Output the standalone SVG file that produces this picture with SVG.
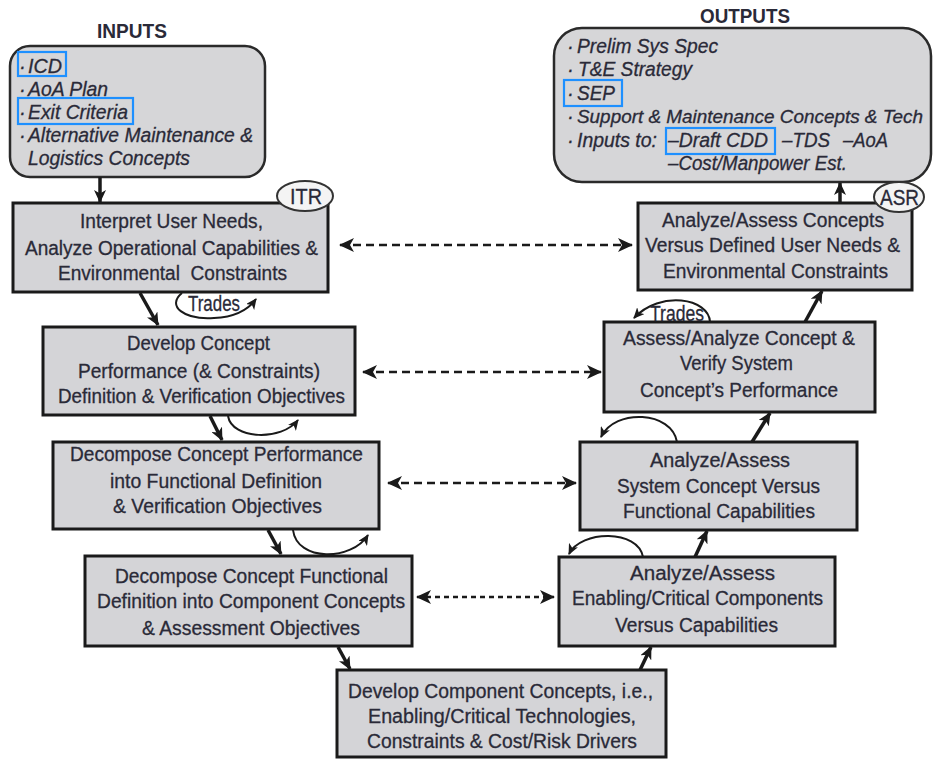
<svg xmlns="http://www.w3.org/2000/svg" width="933" height="759" viewBox="0 0 933 759">
<defs>
<style>
.bg{fill:#ffffff}
.box{fill:#d4d4d7;stroke:#1a1a1a;stroke-width:3}
.rbox{fill:#d6d6d8;stroke:#2a2a2a;stroke-width:2.5}
.t{font-family:"Liberation Sans",Arial,sans-serif;font-size:20px;fill:#2a2a38;stroke:#2a2a38;stroke-width:0.3;white-space:pre}
.it{font-family:"Liberation Sans",Arial,sans-serif;font-size:20px;font-style:italic;fill:#2a2a38;stroke:#2a2a38;stroke-width:0.3;white-space:pre}
.ttl{font-family:"Liberation Sans",Arial,sans-serif;font-size:20px;font-weight:bold;fill:#2a2a38}
.hl{fill:none;stroke:#1e90ff;stroke-width:2.2}
.ell{fill:#f4f4f4;stroke:#333;stroke-width:2}
.solid{fill:none;stroke:#1a1a1a;stroke-width:3.5}
.loop{fill:none;stroke:#1a1a1a;stroke-width:2}
.dash{fill:none;stroke:#1a1a1a;stroke-width:2.5;stroke-dasharray:8 5}
.dash2{fill:none;stroke:#1a1a1a;stroke-width:2.5;stroke-dasharray:5 4}
.big{font-size:22px}
</style>
<marker id="ah" markerUnits="userSpaceOnUse" markerWidth="14" markerHeight="12" refX="12" refY="6" orient="auto">
<path d="M0,0 L13,6 L0,12 L3.5,6 z" fill="#1a1a1a"/>
</marker>
<marker id="ahs" markerUnits="userSpaceOnUse" markerWidth="12" markerHeight="10" refX="10" refY="5" orient="auto">
<path d="M0,0 L11,5 L0,10 L3,5 z" fill="#1a1a1a"/>
</marker>
<marker id="ahd" markerUnits="userSpaceOnUse" markerWidth="16" markerHeight="14" refX="14" refY="7" orient="auto-start-reverse">
<path d="M0,0 L15,7 L0,14 L4,7 z" fill="#1a1a1a"/>
</marker>
</defs>
<rect class="bg" x="0" y="0" width="933" height="759"/>

<g id="inputs">
<text class="ttl" x="97" y="38" textLength="70" lengthAdjust="spacingAndGlyphs">INPUTS</text>
<rect class="rbox" x="10" y="46" width="255" height="131" rx="20" ry="20"/>
<text class="it" x="19" y="73">·</text><text class="it" x="28" y="73" textLength="34" lengthAdjust="spacingAndGlyphs">ICD</text>
<text class="it" x="19" y="96">·</text><text class="it" x="28" y="96" textLength="80" lengthAdjust="spacingAndGlyphs">AoA Plan</text>
<text class="it" x="19" y="119">·</text><text class="it" x="28" y="119" textLength="100" lengthAdjust="spacingAndGlyphs">Exit Criteria</text>
<text class="it" x="19" y="142">·</text><text class="it" x="28" y="142" textLength="225" lengthAdjust="spacingAndGlyphs">Alternative Maintenance &amp;</text>
<text class="it" x="28" y="165" textLength="162" lengthAdjust="spacingAndGlyphs">Logistics Concepts</text>
<rect class="hl" x="18" y="52" width="48" height="24"/>
<rect class="hl" x="18" y="98" width="115" height="26"/>
</g>

<g id="outputs">
<text class="ttl" x="700" y="23" textLength="90" lengthAdjust="spacingAndGlyphs">OUTPUTS</text>
<rect class="rbox" x="554" y="28" width="377" height="154" rx="28" ry="28"/>
<text class="it" x="567" y="53">·</text><text class="it" x="577" y="53" textLength="141" lengthAdjust="spacingAndGlyphs">Prelim Sys Spec</text>
<text class="it" x="567" y="76">·</text><text class="it" x="578" y="76" textLength="114" lengthAdjust="spacingAndGlyphs">T&amp;E Strategy</text>
<text class="it" x="567" y="100">·</text><text class="it" x="577" y="100" textLength="38" lengthAdjust="spacingAndGlyphs">SEP</text>
<text class="it" x="567" y="123">·</text><text class="it" x="577" y="123" textLength="346" lengthAdjust="spacingAndGlyphs" style="font-size:18px">Support &amp; Maintenance Concepts &amp; Tech</text>
<text class="it" x="567" y="147">·</text><text class="it" x="577" y="147" textLength="80" lengthAdjust="spacingAndGlyphs">Inputs to:</text>
<text class="it" x="668" y="147" textLength="100" lengthAdjust="spacingAndGlyphs">–Draft CDD</text>
<text class="it" x="782" y="147" textLength="48" lengthAdjust="spacingAndGlyphs">–TDS</text>
<text class="it" x="843" y="147" textLength="45" lengthAdjust="spacingAndGlyphs">–AoA</text>
<text class="it" x="668" y="170" textLength="179" lengthAdjust="spacingAndGlyphs">–Cost/Manpower Est.</text>
<rect class="hl" x="564" y="80" width="58" height="26"/>
<rect class="hl" x="666" y="128" width="109" height="26"/>
</g>

<g id="connectors">
<line class="solid" x1="100" y1="177" x2="100" y2="202" marker-end="url(#ah)"/>
<line class="solid" x1="140" y1="293" x2="158" y2="325" marker-end="url(#ah)"/>
<line class="solid" x1="210" y1="416" x2="222" y2="440" marker-end="url(#ah)"/>
<line class="solid" x1="268" y1="530" x2="281" y2="554" marker-end="url(#ah)"/>
<line class="solid" x1="338" y1="647" x2="350" y2="669" marker-end="url(#ah)"/>
<line class="solid" x1="640" y1="670" x2="651" y2="647" marker-end="url(#ah)"/>
<line class="solid" x1="695" y1="557" x2="707" y2="531" marker-end="url(#ah)"/>
<line class="solid" x1="752" y1="442" x2="770" y2="413" marker-end="url(#ah)"/>
<line class="solid" x1="805" y1="322" x2="822" y2="291" marker-end="url(#ah)"/>
<line class="solid" x1="840" y1="203" x2="840" y2="183" marker-end="url(#ah)"/>
<path class="loop" d="M182 293 C166 306 184 320 214 318 C234 317 248 310 256 299" marker-end="url(#ahs)"/>
<text class="t big" x="188" y="311" textLength="52" lengthAdjust="spacingAndGlyphs">Trades</text>
<path class="loop" d="M228 416 C232 440 282 441 298 420" marker-end="url(#ahs)"/>
<path class="loop" d="M293 530 C297 562 352 561 368 535" marker-end="url(#ahs)"/>
<path class="loop" d="M710 322 C709 298 660 290 634 318" marker-end="url(#ahs)"/>
<path class="loop" d="M677 442 C672 411 615 408 601 437" marker-end="url(#ahs)"/>
<path class="loop" d="M643 557 C638 529 581 530 569 554" marker-end="url(#ahs)"/>
<line class="dash" x1="340" y1="245" x2="632" y2="245" marker-start="url(#ahd)" marker-end="url(#ahd)"/>
<line class="dash" x1="363" y1="372" x2="601" y2="372" marker-start="url(#ahd)" marker-end="url(#ahd)"/>
<line class="dash" x1="388" y1="483" x2="576" y2="483" marker-start="url(#ahd)" marker-end="url(#ahd)"/>
<line class="dash2" x1="417" y1="597" x2="554" y2="597" marker-start="url(#ahd)" marker-end="url(#ahd)"/>
</g>

<g id="n1">
<rect class="box" x="13" y="203" width="315" height="89"/>
<text class="t" x="80" y="228" textLength="183" lengthAdjust="spacingAndGlyphs">Interpret User Needs,</text>
<text class="t" x="25" y="255" textLength="293" lengthAdjust="spacingAndGlyphs">Analyze Operational Capabilities &amp;</text>
<text class="t" x="58" y="280" textLength="229" lengthAdjust="spacingAndGlyphs">Environmental  Constraints</text>
</g>
<g id="itr">
<ellipse class="ell" cx="305" cy="196" rx="28" ry="15"/>
<text class="t big" x="290" y="204" textLength="32" lengthAdjust="spacingAndGlyphs">ITR</text>
</g>

<g id="n2">
<rect class="box" x="43" y="327" width="312" height="88"/>
<text class="t" x="127" y="350" textLength="143" lengthAdjust="spacingAndGlyphs">Develop Concept</text>
<text class="t" x="78" y="378" textLength="242" lengthAdjust="spacingAndGlyphs">Performance (&amp; Constraints)</text>
<text class="t" x="58" y="403" textLength="287" lengthAdjust="spacingAndGlyphs">Definition &amp; Verification Objectives</text>
</g>

<g id="n3">
<rect class="box" x="53" y="442" width="326" height="87"/>
<text class="t" x="70" y="461" textLength="293" lengthAdjust="spacingAndGlyphs">Decompose Concept Performance</text>
<text class="t" x="110" y="488" textLength="212" lengthAdjust="spacingAndGlyphs">into Functional Definition</text>
<text class="t" x="113" y="513" textLength="209" lengthAdjust="spacingAndGlyphs">&amp; Verification Objectives</text>
</g>

<g id="n4">
<rect class="box" x="85" y="556" width="327" height="90"/>
<text class="t" x="115" y="583" textLength="273" lengthAdjust="spacingAndGlyphs">Decompose Concept Functional</text>
<text class="t" x="97" y="608" textLength="308" lengthAdjust="spacingAndGlyphs">Definition into Component Concepts</text>
<text class="t" x="142" y="635" textLength="218" lengthAdjust="spacingAndGlyphs">&amp; Assessment Objectives</text>
</g>

<g id="n5">
<rect class="box" x="337" y="670" width="329" height="87"/>
<text class="t" x="348" y="698" textLength="305" lengthAdjust="spacingAndGlyphs">Develop Component Concepts, i.e.,</text>
<text class="t" x="368" y="723" textLength="268" lengthAdjust="spacingAndGlyphs">Enabling/Critical Technologies,</text>
<text class="t" x="367" y="748" textLength="270" lengthAdjust="spacingAndGlyphs">Constraints &amp; Cost/Risk Drivers</text>
</g>

<g id="n6">
<rect class="box" x="559" y="557" width="276" height="89"/>
<text class="t" x="630" y="580" textLength="145" lengthAdjust="spacingAndGlyphs">Analyze/Assess</text>
<text class="t" x="572" y="605" textLength="251" lengthAdjust="spacingAndGlyphs">Enabling/Critical Components</text>
<text class="t" x="615" y="632" textLength="163" lengthAdjust="spacingAndGlyphs">Versus Capabilities</text>
</g>

<g id="n7">
<rect class="box" x="580" y="442" width="277" height="88"/>
<text class="t" x="650" y="467" textLength="140" lengthAdjust="spacingAndGlyphs">Analyze/Assess</text>
<text class="t" x="617" y="493" textLength="203" lengthAdjust="spacingAndGlyphs">System Concept Versus</text>
<text class="t" x="623" y="518" textLength="192" lengthAdjust="spacingAndGlyphs">Functional Capabilities</text>
</g>

<g id="n8">
<rect class="box" x="604" y="322" width="271" height="90"/>
<text class="t" x="623" y="345" textLength="232" lengthAdjust="spacingAndGlyphs">Assess/Analyze Concept &amp;</text>
<text class="t" x="680" y="370" textLength="113" lengthAdjust="spacingAndGlyphs">Verify System</text>
<text class="t" x="640" y="397" textLength="198" lengthAdjust="spacingAndGlyphs">Concept’s Performance</text>
</g>
<text class="t big" x="650" y="321" textLength="54" lengthAdjust="spacingAndGlyphs">Trades</text>

<g id="n9">
<rect class="box" x="638" y="203" width="274" height="87"/>
<text class="t" x="662" y="227" textLength="222" lengthAdjust="spacingAndGlyphs">Analyze/Assess Concepts</text>
<text class="t" x="645" y="252" textLength="255" lengthAdjust="spacingAndGlyphs">Versus Defined User Needs &amp;</text>
<text class="t" x="663" y="278" textLength="225" lengthAdjust="spacingAndGlyphs">Environmental Constraints</text>
</g>
<g id="asr">
<ellipse class="ell" cx="899" cy="197" rx="25" ry="15"/>
<text class="t big" x="880" y="205" textLength="39" lengthAdjust="spacingAndGlyphs">ASR</text>
</g>
</svg>
